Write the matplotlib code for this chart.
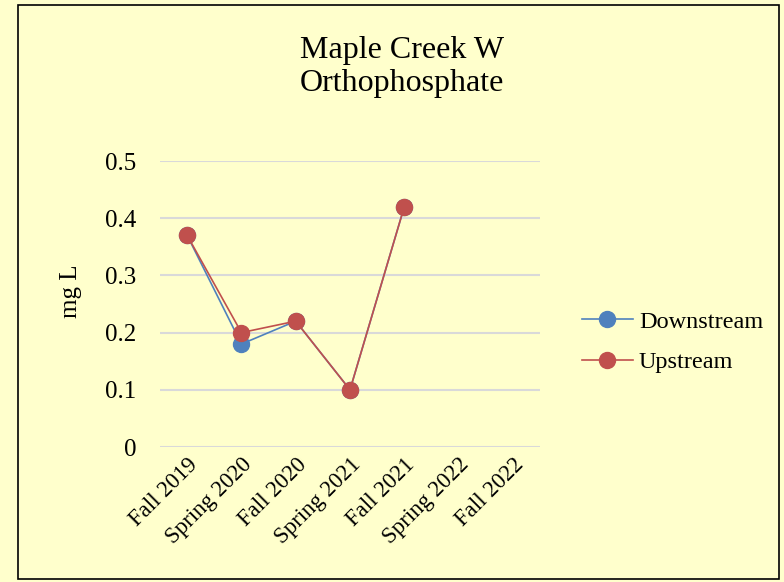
import numpy as np
import matplotlib.pyplot as plt
from matplotlib.patches import Rectangle

plt.rcParams['font.family'] = ['Liberation Serif', 'DejaVu Serif']

seasons = ['Fall 2019', 'Spring 2020', 'Fall 2020', 'Spring 2021',
           'Fall 2021', 'Spring 2022', 'Fall 2022']
downstream = [0.37, 0.18, 0.22, 0.10, 0.42, np.nan, np.nan]
upstream = [0.37, 0.20, 0.22, 0.10, 0.42, np.nan, np.nan]

bg = '#FFFFCC'
fig = plt.figure(figsize=(7.84, 5.82), dpi=100, facecolor=bg)
fig.patches.append(Rectangle((18/784, 1-579/582), 761/784, 574/582,
                             transform=fig.transFigure, fill=False,
                             edgecolor='black', linewidth=1.2))

ax = fig.add_axes([160/784, 1-447/582, 380/784, 286/582])
ax.set_facecolor(bg)
x = np.arange(len(seasons))
ax.plot(x, downstream, color='#4F81BD', marker='o', markersize=11.5,
        linewidth=1.2, label='Downstream')
ax.plot(x, upstream, color='#C0504D', marker='o', markersize=11.5,
        linewidth=1.2, label='Upstream')

ax.set_xlim(-0.5, len(seasons) - 0.5)
ax.set_ylim(0, 0.5)
ax.set_yticks([0, 0.1, 0.2, 0.3, 0.4, 0.5])
ax.set_yticklabels(['0', '0.1', '0.2', '0.3', '0.4', '0.5'], fontsize=18)
ax.set_xticks(x)
ax.set_xticklabels(seasons, rotation=45, ha='right', rotation_mode='anchor',
                   fontsize=16.5)
ax.tick_params(length=0)
ax.tick_params(axis='y', pad=17)
ax.tick_params(axis='x', pad=5)
ax.grid(axis='y', color='#D9D9D9', linewidth=1.5)
ax.set_axisbelow(True)
for s in ax.spines.values():
    s.set_visible(False)

fig.text(71/784, 1-291/582, 'mg L', rotation=90, ha='center', va='center',
         fontsize=18)

fig.text(402/784, 1-67/582, 'Maple Creek W\nOrthophosphate', ha='center',
         va='center', fontsize=23, linespacing=1.2)

fig.legend(loc='center left', bbox_to_anchor=(572/784, 1-342/582),
           frameon=False, fontsize=17.5, handlelength=2.1, labelspacing=0.75,
           handletextpad=0.25, borderaxespad=0)

plt.savefig('out.png', facecolor=bg)
